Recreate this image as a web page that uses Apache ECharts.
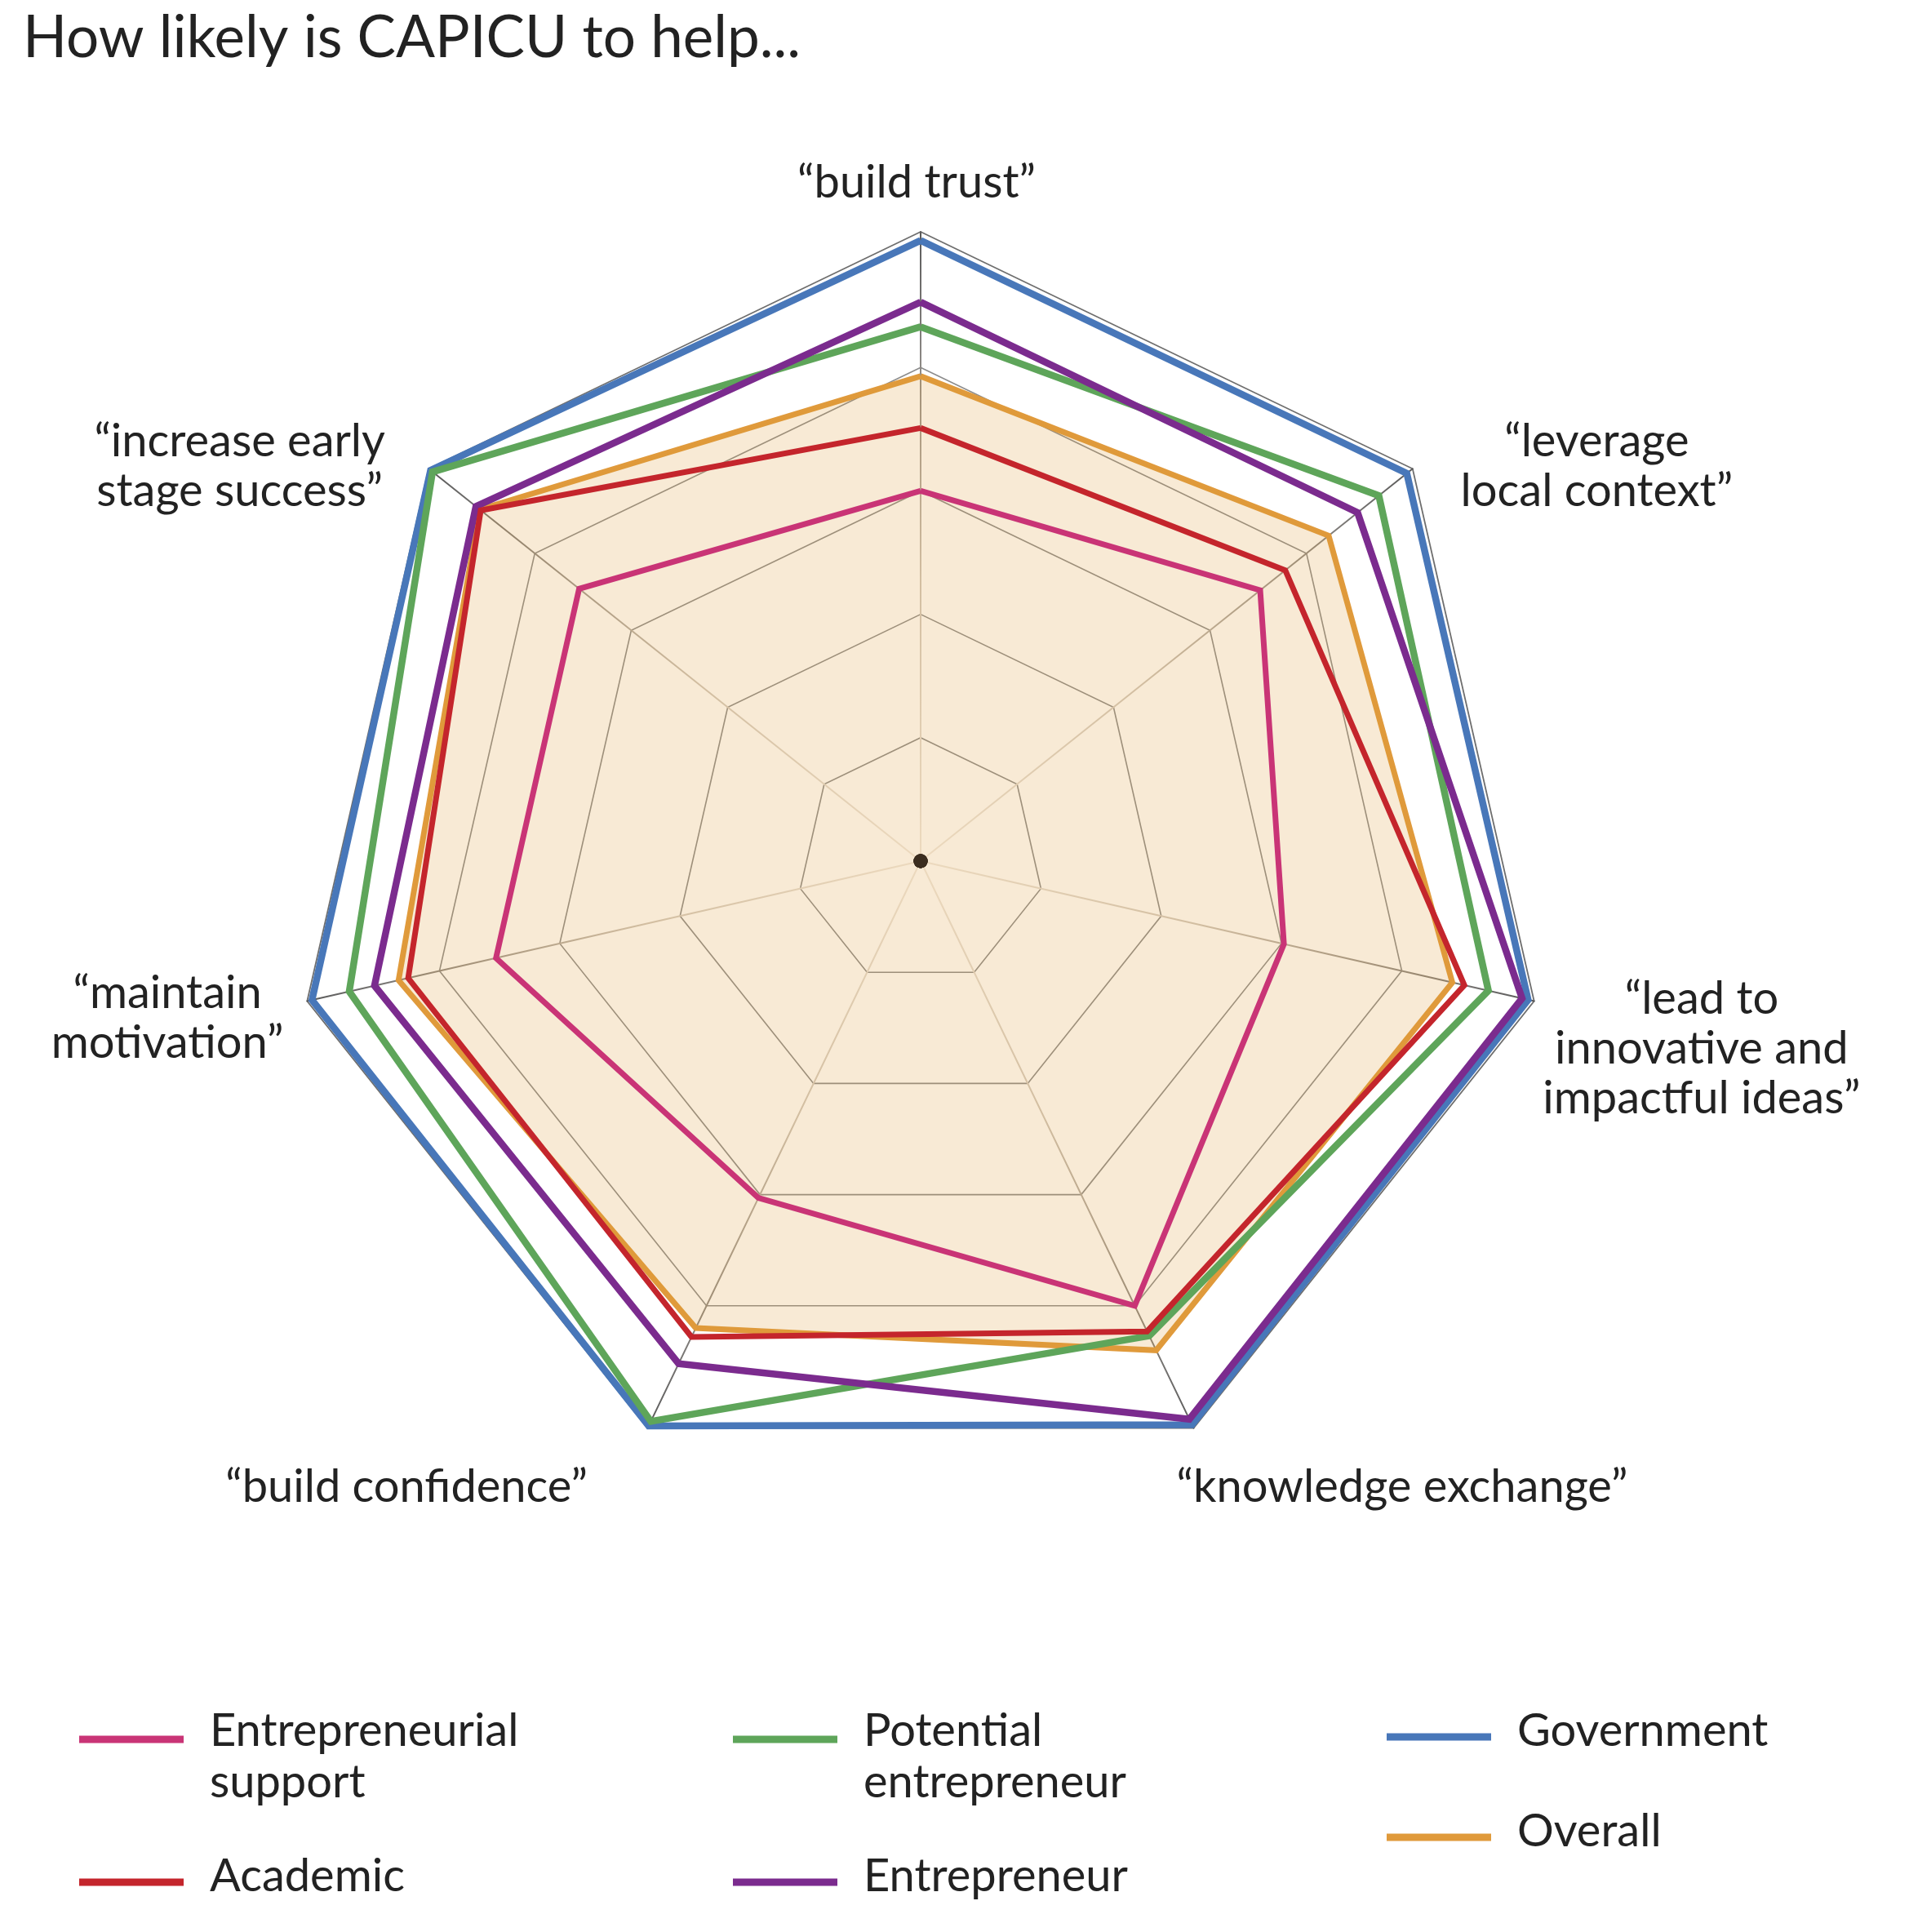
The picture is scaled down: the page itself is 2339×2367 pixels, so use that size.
<!DOCTYPE html>
<html><head><meta charset="utf-8">
<script src="https://cdn.jsdelivr.net/npm/echarts@6/dist/echarts.min.js"></script>
<style>html,body{margin:0;padding:0;background:#fff}#c{width:2339px;height:2367px}</style>
</head><body><div id="c"></div>
<script>
// ---- data (indicator order as ECharts lays them out: top, then counter-clockwise) ----
const titleText = 'How likely is CAPICU to help...';
const categories = ['“build trust”', '“increase early\nstage success”', '“maintain\nmotivation”', '“build confidence”', '“knowledge exchange”', '“lead to\ninnovative and\nimpactful ideas”', '“leverage\nlocal context”'];
const seriesNames = ['Entrepreneurial support', 'Academic', 'Potential entrepreneur', 'Entrepreneur', 'Government', 'Overall'];
const legendLabels = ['Entrepreneurial\nsupport', 'Academic', 'Potential\nentrepreneur', 'Entrepreneur', 'Government', 'Overall'];
const entSupport   = [3.00, 3.54, 3.53, 3.03, 4.00, 3.02, 3.52];
const academic     = [3.51, 4.56, 4.26, 4.28, 4.23, 4.52, 3.78];
const potential    = [4.33, 5.06, 4.75, 5.04, 4.27, 4.72, 4.75];
const entrepreneur = [4.53, 4.61, 4.54, 4.52, 5.02, 5.00, 4.53];
const government   = [5.03, 5.08, 5.06, 5.08, 5.07, 5.05, 5.04];
const overall      = [3.93, 4.57, 4.34, 4.20, 4.40, 4.42, 4.23];
const centerDot    = [0, 0, 0, 0, 0, 0, 0];
const outerMax = 5.1;   // outer polygon value
const gridMax = 4;      // inner grid rings 1..4

// ---- styling / layout ----
const colors = ['#c93476', '#c4252c', '#5ea55a', '#7b2b8e', '#4877b9', '#e09a3b'];
const widths = [7, 7, 8.5, 8.5, 8.5, 7];
const CX = 1128, CY = 1055, R = 771;
const FONT = 'Lato';
const nameShift = [[-5,130],[-83,116],[14,-21],[-213,-99],[173,-99],[20,16],[77,116]];
const rich = {};
nameShift.forEach(function (s, i) {
  const dx = s[0], dy = s[1];
  rich['t' + i] = {fontFamily: FONT, fontSize: 56, color: '#222', lineHeight: 61, align: 'center',
    padding: [0, dx < 0 ? -2 * dx : 0, 0, dx > 0 ? 2 * dx : 0]};
  rich['s' + i] = {fontSize: 1, height: Math.abs(2 * dy), lineHeight: Math.abs(2 * dy)};
});
function nameFmt(name) {
  const i = categories.indexOf(name);
  const dy = nameShift[i][1];
  let s = name.split('\n').map(function (l) { return '{t' + i + '|' + l + '}'; }).join('\n');
  if (dy > 0) s = '{s' + i + '|}\n' + s;
  if (dy < 0) s = s + '\n{s' + i + '|}';
  return s;
}

const chart = echarts.init(document.getElementById('c'));
const series = [];
const order = [5, 4, 2, 3, 1, 0];
order.forEach(function (k) {
  const vals = [entSupport, academic, potential, entrepreneur, government, overall][k];
  const s = {
    type: 'radar', radarIndex: 0, name: seriesNames[k], symbol: 'none', silent: true,
    color: colors[k],
    lineStyle: {width: widths[k], color: colors[k], join: 'miter'},
    itemStyle: {color: colors[k]},
    emphasis: {disabled: true},
    data: [{value: vals, name: seriesNames[k], itemStyle: {color: colors[k]}, lineStyle: {width: widths[k], color: colors[k], join: 'miter'}}]
  };
  if (k === 5) s.data[0].areaStyle = {color: colors[5], opacity: 0.21};
  series.push(s);
});
series.push({type: 'radar', radarIndex: 0, name: 'center', symbol: 'circle', symbolSize: 17, silent: true, z: 10,
  itemStyle: {color: '#3b2d1f'}, lineStyle: {width: 0, opacity: 0},
  data: [{value: centerDot, name: 'center'}]});

const legendRich = {
  t: {fontFamily: FONT, fontSize: 56, color: '#222', lineHeight: 63, align: 'left'},
  top: {fontSize: 1, height: 42, lineHeight: 42},
  bot: {fontSize: 1, height: 14, lineHeight: 14}
};
function mkLegend(k, left, top) {
  return {
    orient: 'vertical', icon: 'rect', itemWidth: 128, itemHeight: 9, padding: 0, selectedMode: false,
    left: left, top: top, data: [seriesNames[k]],
    itemStyle: {borderWidth: 0},
    formatter: function (n) {
      const lines = legendLabels[seriesNames.indexOf(n)].split('\n');
      const body = lines.map(function (l) { return '{t|' + l + '}'; }).join('\n');
      return lines.length > 1 ? '{top|}\n' + body : body + '\n{bot|}';
    },
    textStyle: {fontFamily: FONT, fontSize: 56, color: '#222', rich: legendRich, padding: [0, 0, 0, 27]}
  };
}

const option = {
  backgroundColor: '#ffffff',
  animation: false,
  title: {text: titleText, left: 28, top: 12, padding: 0,
    textStyle: {fontFamily: FONT, fontSize: 71, fontWeight: 'normal', color: '#222'}},
  legend: [
    mkLegend(0, 97, 2047),
    mkLegend(1, 97, 2271),
    mkLegend(2, 898, 2047),
    mkLegend(3, 898, 2271),
    mkLegend(4, 1699, 2093),
    mkLegend(5, 1699, 2216)
  ],
  radar: [
    {
      center: [CX, CY], radius: R, shape: 'polygon', splitNumber: 1, startAngle: 90,
      indicator: categories.map(function (c) { return {name: c, min: 0, max: outerMax}; }),
      nameGap: 190,
      axisName: {formatter: nameFmt, rich: rich, align: 'center', verticalAlign: 'middle',
        fontFamily: FONT, fontSize: 56, color: '#222'},
      splitLine: {lineStyle: {color: '#6e6e6e', width: 1.8}},
      splitArea: {show: false},
      axisLine: {lineStyle: {width: 2, color: {type: 'radial', x: CX, y: CY, r: R, global: true,
        colorStops: [{offset: 0, color: '#f1ebe3'}, {offset: 0.45, color: '#cfc7bd'}, {offset: 0.78, color: '#8e8a86'}, {offset: 1, color: '#5a5a5a'}]}}}
    },
    {
      center: [CX, CY], radius: R * gridMax / outerMax, shape: 'polygon', splitNumber: gridMax, startAngle: 90,
      indicator: categories.map(function (c) { return {name: c, min: 0, max: gridMax}; }),
      axisName: {show: false},
      splitLine: {lineStyle: {color: '#8c8c8c', width: 1.6}},
      splitArea: {show: false},
      axisLine: {show: false}
    }
  ],
  series: series
};
chart.setOption(option);
</script></body></html>
